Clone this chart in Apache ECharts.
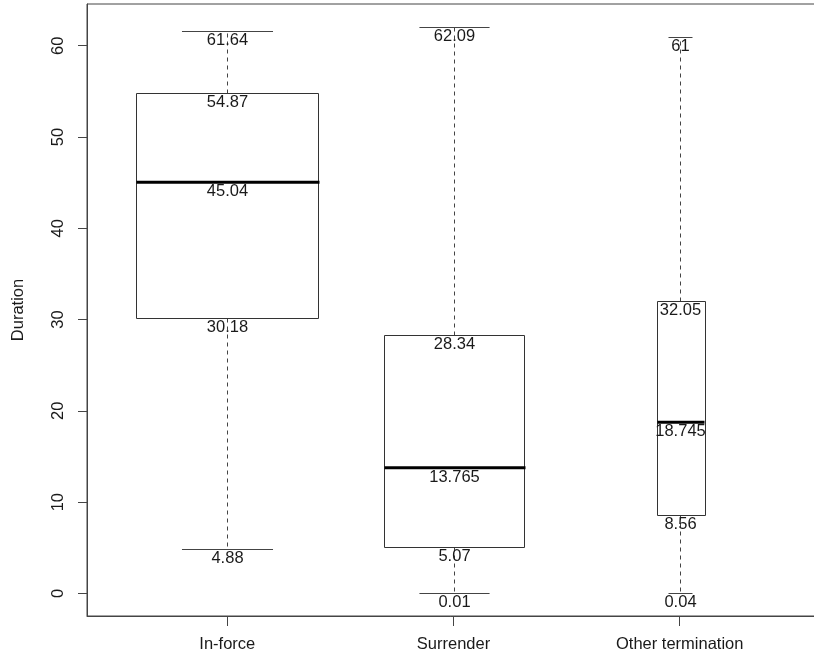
<!DOCTYPE html>
<html>
<head>
<meta charset="utf-8">
<script src="https://cdn.jsdelivr.net/npm/echarts@6/dist/echarts.min.js"></script>
<style>
  html, body { margin: 0; padding: 0; background: #fff; }
  #main { width: 814px; height: 658px; }
</style>
</head>
<body>
<div id="main"></div>
<script>
// five-number summaries
const categories = ['In-force', 'Surrender', 'Other termination'];
const whiskerLow = [4.88, 0.01, 0.04];
const lowerQuartile = [30.18, 5.07, 8.56];
const median = [45.04, 13.765, 18.745];
const upperQuartile = [54.87, 28.34, 32.05];
const whiskerHigh = [61.64, 62.09, 61];
const yTicks = [0, 10, 20, 30, 40, 50, 60];

// box widths in x units (varwidth look), kept apart from the data
const boxWidths = [0.805, 0.62, 0.212];
const FONT = 'Liberation Sans';
const FS = 16.5;

// R style 4% padding around the data range
let lo = Math.min(...whiskerLow), hi = Math.max(...whiskerHigh);
let pad = (hi - lo) * 0.04;

let rows = categories.map((c, i) => [i + 1, whiskerLow[i], lowerQuartile[i], median[i], upperQuartile[i], whiskerHigh[i]]);

function crisp(v) { return Math.round(v) + 0.5; }

function renderBox(params, api) {
  let i = params.dataIndex;
  let x = api.value(0);
  let cx = crisp(api.coord([x, 0])[0]);
  let ys = [1, 2, 3, 4, 5].map(k => api.coord([x, api.value(k)])[1]);
  let [yLo, yQ1, yMed, yQ3, yHi] = ys;
  let half = api.size([boxWidths[i], 0])[0] / 2;
  let kids = [];
  let dash = { stroke: '#444', lineWidth: 1, lineDash: [4, 4] };
  kids.push({ type: 'line', shape: { x1: cx, y1: crisp(yQ3), x2: cx, y2: crisp(yHi) }, style: dash });
  kids.push({ type: 'line', shape: { x1: cx, y1: crisp(yQ1), x2: cx, y2: crisp(yLo) }, style: dash });
  [yLo, yHi].forEach(y => {
    kids.push({ type: 'line', shape: { x1: cx - half / 2, y1: crisp(y), x2: cx + half / 2, y2: crisp(y) },
      style: { stroke: '#444', lineWidth: 1 } });
  });
  kids.push({ type: 'rect', shape: { x: crisp(cx - half), y: crisp(yQ3), width: Math.round(2 * half), height: Math.round(yQ1 - yQ3) },
    style: { fill: 'none', stroke: '#333', lineWidth: 1 } });
  kids.push({ type: 'line', shape: { x1: crisp(cx - half), y1: yMed, x2: crisp(cx + half), y2: yMed },
    style: { stroke: '#000', lineWidth: 3 } });
  // value labels just under each line
  [1, 2, 3, 4, 5].forEach((k, j) => {
    kids.push({ type: 'text', x: cx, y: ys[j] + 1,
      style: { text: String(api.value(k)), fill: '#1a1a1a', fontSize: FS, fontFamily: FONT,
        align: 'center', verticalAlign: 'top' } });
  });
  return { type: 'group', children: kids };
}

let options = {
  animation: false,
  grid: { left: 87, top: 4, width: 733, height: 612, show: true, borderColor: '#444', borderWidth: 1,
    outerBoundsMode: 'none', containLabel: false },
  xAxis: {
    type: 'value', min: 0.38, max: 3.62,
    axisLine: { show: true, onZero: false, lineStyle: { color: '#444' } },
    axisTick: { show: true, length: 10, customValues: [1, 2, 3], lineStyle: { color: '#444' } },
    axisLabel: { customValues: [1, 2, 3], formatter: v => categories[Math.round(v) - 1] || '',
      color: '#1a1a1a', fontSize: FS, fontFamily: FONT, margin: 20 },
    splitLine: { show: false }
  },
  yAxis: {
    type: 'value', min: lo - pad, max: hi + pad,
    name: 'Duration', nameLocation: 'middle', nameGap: 60,
    nameTextStyle: { color: '#1a1a1a', fontSize: FS, fontFamily: FONT },
    axisLine: { show: true, onZero: false, lineStyle: { color: '#444' } },
    axisTick: { show: true, length: 9, customValues: yTicks, lineStyle: { color: '#444' } },
    axisLabel: { customValues: yTicks, rotate: 90, color: '#1a1a1a', fontSize: FS, fontFamily: FONT, margin: 20 },
    splitLine: { show: false }
  },
  series: [{
    type: 'custom',
    clip: false,
    renderItem: renderBox,
    encode: { x: 0, y: [1, 2, 3, 4, 5] },
    data: rows
  }]
};

let myChart = echarts.init(document.getElementById('main'));
myChart.setOption(options);
</script>
</body>
</html>
